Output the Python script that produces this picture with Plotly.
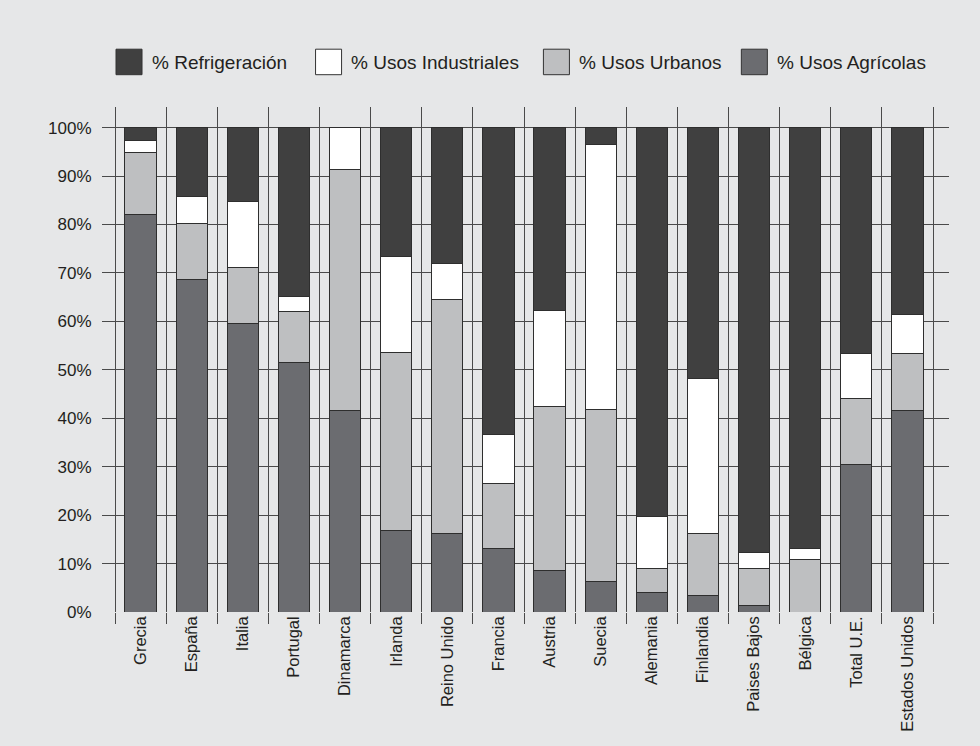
import plotly.graph_objects as go

categories = ["Grecia", "España", "Italia", "Portugal", "Dinamarca", "Irlanda",
              "Reino Unido", "Francia", "Austria", "Suecia", "Alemania", "Finlandia",
              "Paises Bajos", "Bélgica", "Total U.E.", "Estados Unidos"]
agricolas = [82.0, 68.7, 59.5, 51.5, 41.7, 16.8, 16.2, 13.1, 8.6, 6.3, 4.1, 3.5, 1.4, 0.0, 30.5, 41.7]
urbanos = [12.9, 11.6, 11.7, 10.5, 49.7, 36.8, 48.3, 13.5, 33.9, 35.5, 4.9, 12.7, 7.5, 10.8, 13.5, 11.6]
industriales = [2.5, 5.4, 13.5, 3.1, 8.6, 19.8, 7.4, 10.1, 19.7, 54.8, 10.8, 32.1, 3.4, 2.3, 9.4, 8.1]
refrigeracion = [2.6, 14.3, 15.3, 34.9, 0.0, 26.6, 28.1, 63.3, 37.8, 3.4, 80.2, 51.7, 87.7, 86.9, 46.6, 38.6]

series_names = ["% Refrigeración", "% Usos Industriales", "% Usos Urbanos", "% Usos Agrícolas"]
series_colors = ["#404040", "#ffffff", "#bebfc1", "#6b6c70"]
y_ticks = [0, 10, 20, 30, 40, 50, 60, 70, 80, 90, 100]
y_ticktext = [f"{v}%" for v in y_ticks]

FONT = "Liberation Sans, Arial, sans-serif"
BG = "#e6e7e8"
GRID = "#4a4a4a"
EDGE = "#2e2e2e"
TXT = "#231f20"

W, H = 980, 746
L, R, T, B = 102.3, 31.3, 107.3, 133.7
plot_w = W - L - R
plot_h = H - T - B

fig = go.Figure()
stack = [(series_names[3], agricolas, series_colors[3]),
         (series_names[2], urbanos, series_colors[2]),
         (series_names[1], industriales, series_colors[1]),
         (series_names[0], refrigeracion, series_colors[0])]
for name, vals, col in stack:
    fig.add_trace(go.Bar(x=categories, y=vals, name=name, width=0.61,
                         marker=dict(color=col, line=dict(color=EDGE, width=1)),
                         showlegend=False))

n = len(categories)
fig.update_layout(
    width=W, height=H, barmode="stack",
    paper_bgcolor=BG, plot_bgcolor=BG,
    margin=dict(l=L, r=R, t=T, b=B, autoexpand=False),
    font=dict(family=FONT, color=TXT),
    xaxis=dict(type="category", range=[-0.7545, n - 1 + 0.813],
               tickson="boundaries", showgrid=True, gridcolor=GRID, gridwidth=1,
               ticks="outside", ticklen=11, tickcolor=GRID, tickwidth=1,
               tickangle=-90, tickfont=dict(size=16.5, family=FONT, color=TXT),
               showline=False, zeroline=False),
    yaxis=dict(range=[0, 104.27], tickvals=y_ticks, ticktext=y_ticktext,
               showgrid=True, gridcolor=GRID, gridwidth=1, zeroline=False,
               showline=False, ticks="outside", ticklen=6, tickcolor="rgba(0,0,0,0)",
               tickfont=dict(size=17, family=FONT, color=TXT)),
)

# custom legend (swatches + labels)
def px_x(px):
    return (px - L) / plot_w

def px_y(py):
    return (H - B - py) / plot_h

sw_x = [116.3, 315.7, 543.4, 741.2]
tx_x = [150.0, 349.3, 577.0, 774.8]
for i, name in enumerate(series_names):
    fig.add_shape(type="rect", xref="paper", yref="paper",
                  x0=px_x(sw_x[i]), x1=px_x(sw_x[i] + 26), y0=px_y(75), y1=px_y(49.5),
                  fillcolor=series_colors[i], line=dict(color="#333333", width=1))
    fig.add_annotation(text=name, xref="paper", yref="paper", x=px_x(tx_x[i]), y=px_y(62.5),
                       xanchor="left", yanchor="middle", showarrow=False,
                       font=dict(size=19, family=FONT, color=TXT))

fig.write_html("out.html", config={"displayModeBar": False},
               post_script="document.body.style.margin='0';")
